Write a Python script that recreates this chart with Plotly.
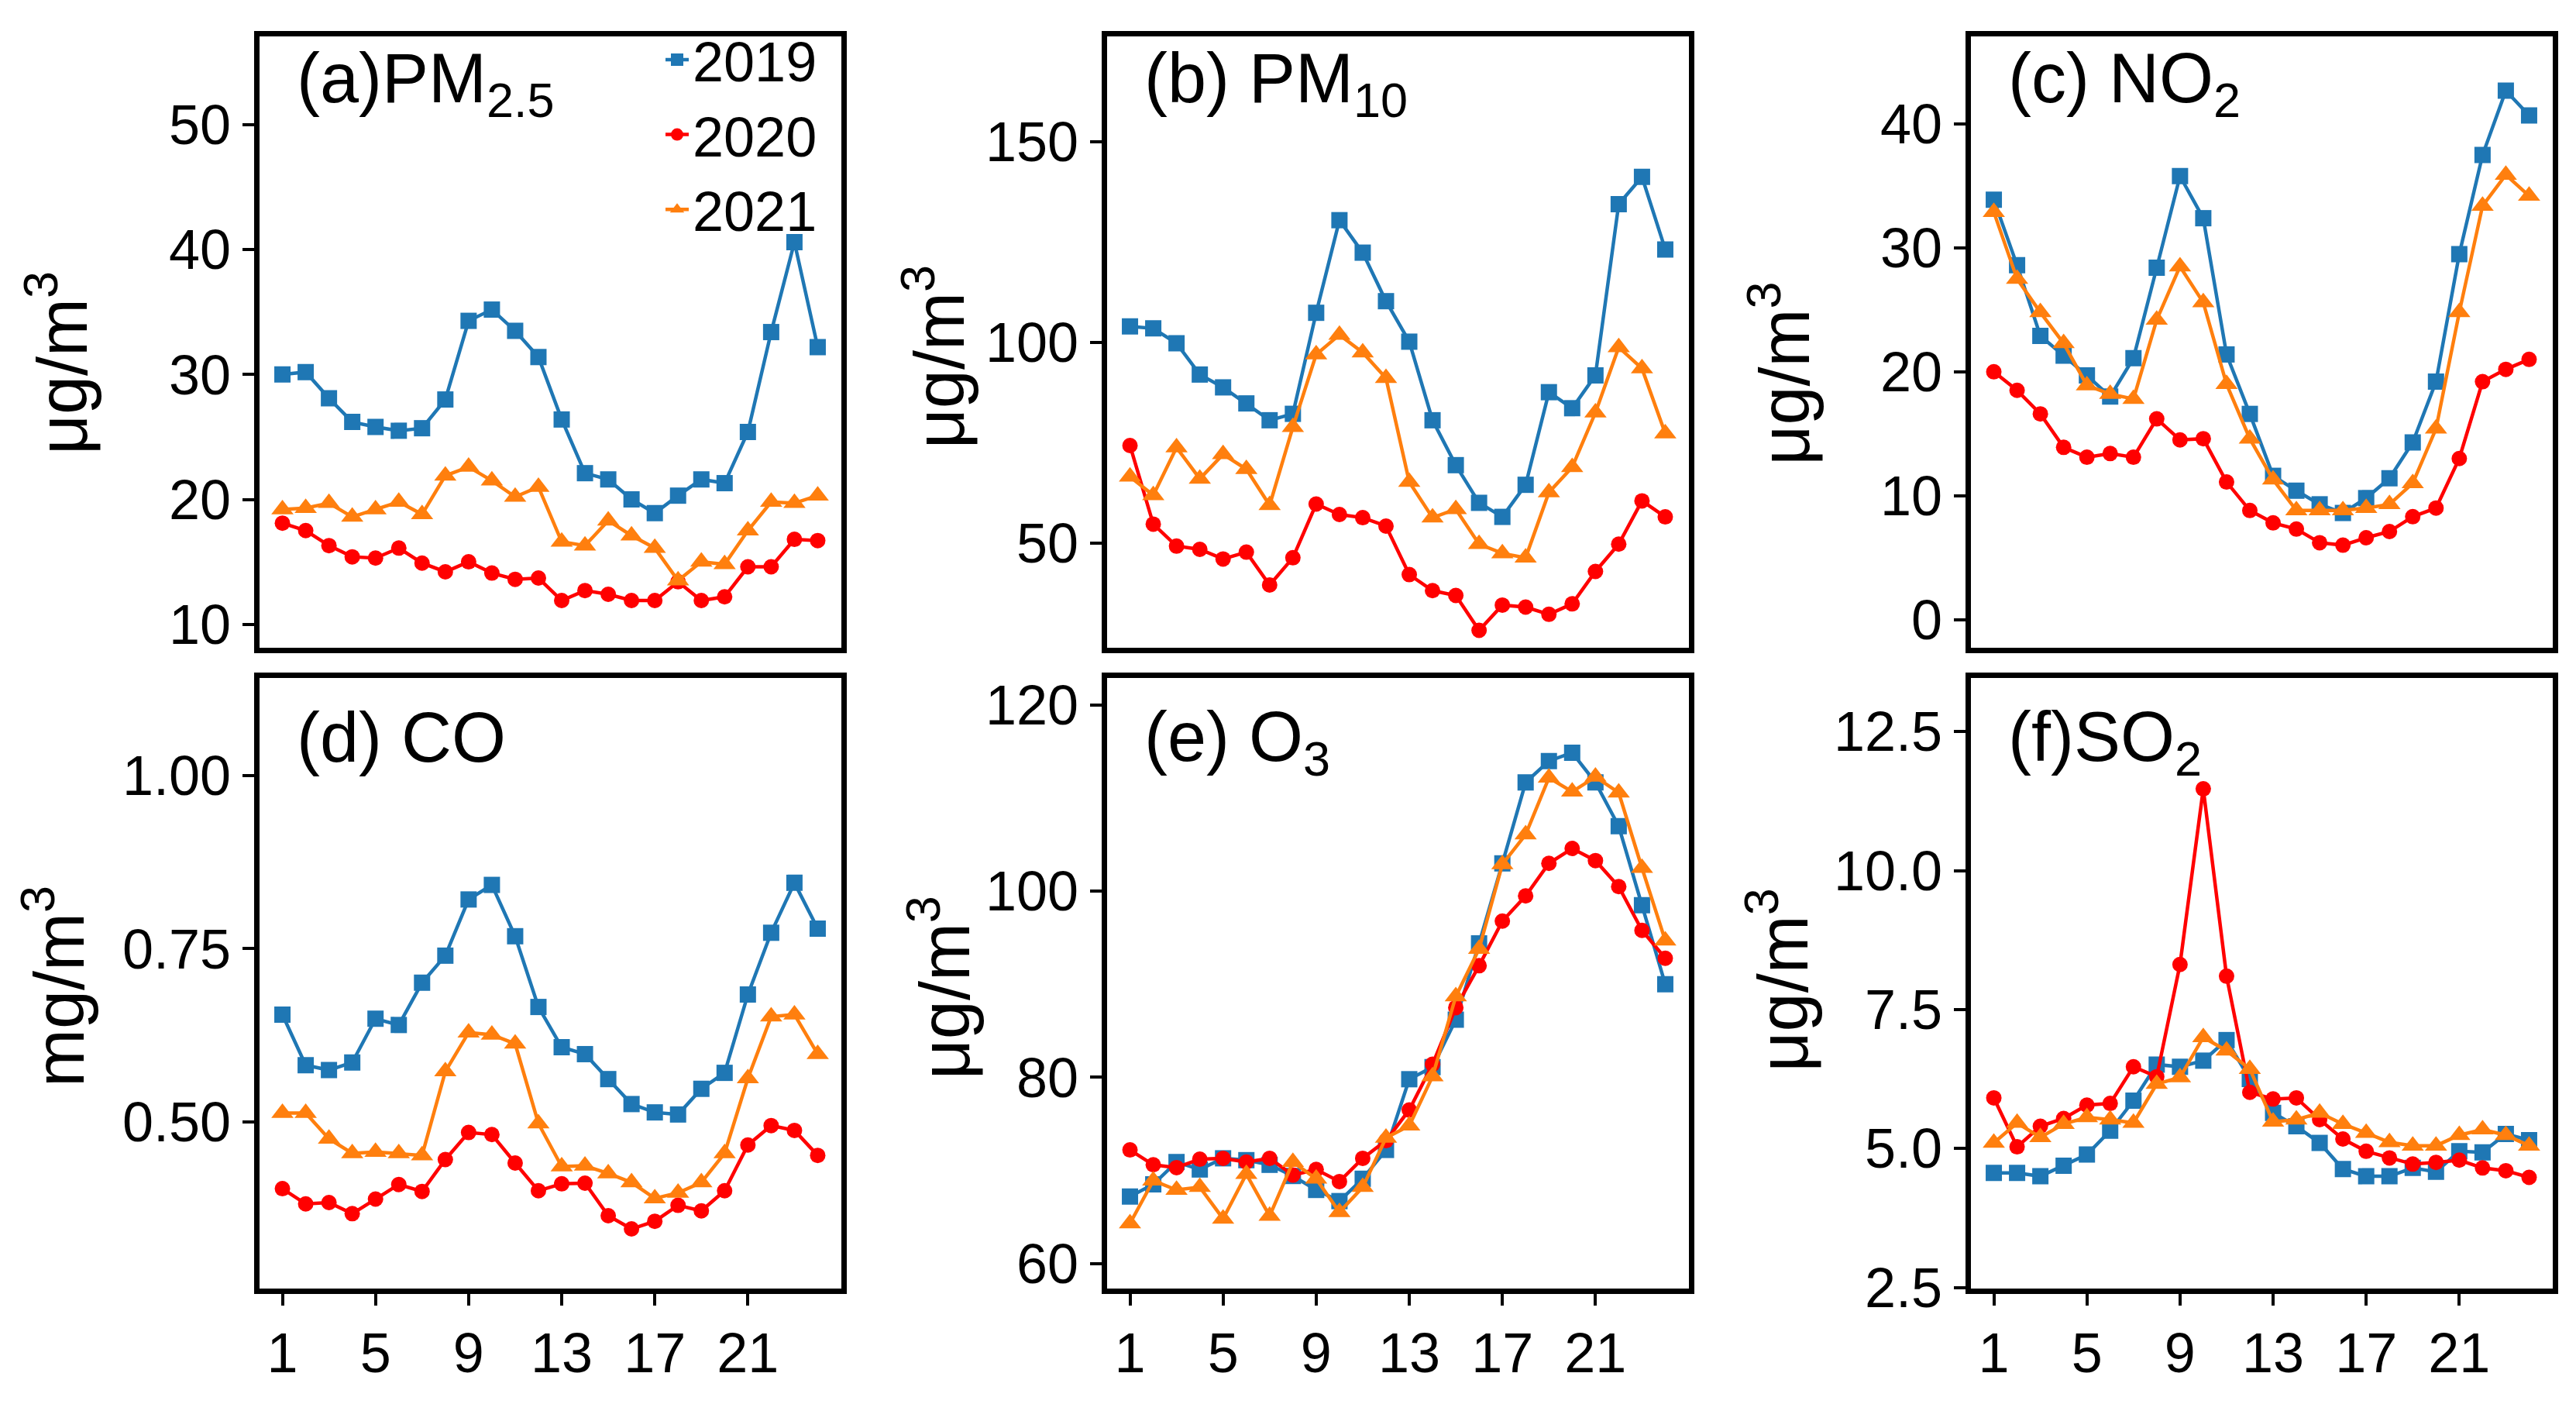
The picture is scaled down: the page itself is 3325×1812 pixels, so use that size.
"""Diurnal profiles of six pollutants, 2019-2021, as a 2x3 panel figure."""

import plotly.graph_objects as go

hours = list(range(1, 25))
years = ["2019", "2020", "2021"]

# (a) PM2.5
pm25_2019 = [30.0, 30.2, 28.1, 26.2, 25.8, 25.5, 25.7, 28.0, 34.3, 35.2, 33.5, 31.4,
             26.4, 22.1, 21.6, 20.0, 18.9, 20.3, 21.6, 21.3, 25.4, 33.4, 40.6, 32.2]
pm25_2020 = [18.1, 17.5, 16.3, 15.4, 15.3, 16.1, 14.9, 14.2, 15.0, 14.1, 13.6, 13.7,
             11.9, 12.7, 12.4, 11.9, 11.9, 13.4, 11.9, 12.2, 14.6, 14.6, 16.8, 16.7]
pm25_2021 = [19.2, 19.3, 19.7, 18.6, 19.2, 19.8, 18.8, 21.9, 22.6, 21.5, 20.2, 21.0,
             16.6, 16.3, 18.3, 17.1, 16.1, 13.5, 15.0, 14.8, 17.5, 19.8, 19.7, 20.3]

# (b) PM10
pm10_2019 = [104.0, 103.5, 99.8, 92.0, 88.8, 84.8, 80.6, 82.2, 107.4, 130.5, 122.4, 110.3,
             100.2, 80.6, 69.4, 60.0, 56.5, 64.5, 87.6, 83.6, 91.8, 134.5, 141.3, 123.2]
pm10_2020 = [74.3, 54.7, 49.2, 48.4, 46.0, 47.7, 39.5, 46.3, 59.7, 57.1, 56.3, 54.2,
             42.1, 38.1, 36.9, 28.2, 34.5, 34.0, 32.2, 34.8, 42.9, 49.7, 60.5, 56.5]
pm10_2021 = [66.5, 61.9, 73.8, 66.0, 72.1, 68.4, 59.4, 78.9, 97.0, 101.9, 97.5, 91.1,
             65.2, 56.3, 58.4, 49.7, 47.4, 46.3, 62.6, 68.9, 82.5, 98.8, 93.5, 77.3]

# (c) NO2
no2_2019 = [33.9, 28.6, 22.9, 21.3, 19.7, 18.0, 21.1, 28.4, 35.8, 32.4, 21.4, 16.6,
            11.6, 10.4, 9.3, 8.6, 9.8, 11.4, 14.3, 19.2, 29.5, 37.5, 42.7, 40.7]
no2_2020 = [20.0, 18.5, 16.6, 13.9, 13.1, 13.4, 13.1, 16.2, 14.5, 14.6, 11.1, 8.8,
            7.8, 7.3, 6.2, 6.0, 6.6, 7.1, 8.3, 9.0, 13.0, 19.2, 20.2, 21.0]
no2_2021 = [32.9, 27.5, 24.8, 22.3, 18.9, 18.2, 17.8, 24.2, 28.5, 25.6, 19.0, 14.6,
            11.3, 8.8, 8.8, 8.8, 9.0, 9.3, 11.0, 15.4, 24.8, 33.4, 35.9, 34.2]

# (d) CO
co_2019 = [0.655, 0.582, 0.575, 0.586, 0.649, 0.640, 0.701, 0.740, 0.821, 0.842, 0.768, 0.666,
           0.608, 0.598, 0.562, 0.526, 0.514, 0.511, 0.548, 0.571, 0.684, 0.773, 0.845, 0.779]
co_2020 = [0.404, 0.382, 0.384, 0.368, 0.389, 0.410, 0.400, 0.446, 0.485, 0.482, 0.441, 0.401,
           0.411, 0.412, 0.365, 0.346, 0.357, 0.380, 0.372, 0.401, 0.467, 0.495, 0.488, 0.452]
co_2021 = [0.513, 0.513, 0.476, 0.455, 0.457, 0.455, 0.452, 0.573, 0.629, 0.626, 0.613, 0.498,
           0.436, 0.437, 0.426, 0.413, 0.390, 0.398, 0.413, 0.455, 0.563, 0.652, 0.655, 0.598]

# (e) O3
o3_2019 = [67.2, 68.5, 70.9, 70.1, 71.3, 71.1, 70.6, 69.4, 67.9, 66.7, 69.1, 72.2,
           79.8, 81.1, 86.2, 94.4, 103.0, 111.7, 114.0, 114.9, 111.7, 107.0, 98.5, 90.0]
o3_2020 = [72.2, 70.6, 70.3, 71.2, 71.3, 70.9, 71.3, 69.5, 70.1, 68.8, 71.3, 73.2,
           76.5, 81.4, 87.5, 92.0, 96.8, 99.5, 103.0, 104.6, 103.3, 100.5, 95.8, 92.8]
o3_2021 = [64.3, 68.9, 67.9, 68.2, 64.8, 69.6, 65.1, 70.9, 69.1, 65.5, 68.2, 73.5,
           74.8, 80.1, 88.7, 93.8, 102.9, 106.1, 112.2, 110.7, 112.3, 110.6, 102.5, 94.7]

# (f) SO2
so2_2019 = [4.56, 4.56, 4.50, 4.69, 4.89, 5.32, 5.86, 6.51, 6.47, 6.58, 6.95, 6.25,
            5.64, 5.40, 5.10, 4.63, 4.50, 4.50, 4.65, 4.58, 4.95, 4.93, 5.26, 5.15]
so2_2020 = [5.91, 5.03, 5.40, 5.54, 5.78, 5.81, 6.47, 6.29, 8.31, 11.47, 8.10, 6.01,
            5.89, 5.91, 5.52, 5.17, 4.95, 4.83, 4.72, 4.75, 4.79, 4.65, 4.60, 4.48]
so2_2021 = [5.10, 5.46, 5.20, 5.44, 5.56, 5.52, 5.46, 6.16, 6.28, 7.00, 6.76, 6.43,
            5.48, 5.52, 5.64, 5.44, 5.28, 5.11, 5.05, 5.05, 5.24, 5.34, 5.24, 5.05]

x_ticks = [1, 5, 9, 13, 17, 21]

panels = [
    dict(label="(a)PM<sub>2.5</sub>", unit="μg/m<sup>3</sup>",
         series=[pm25_2019, pm25_2020, pm25_2021],
         yrange=[8.1, 57.1], yticks=[10, 20, 30, 40, 50], fmt="d"),
    dict(label="(b) PM<sub>10</sub>", unit="μg/m<sup>3</sup>",
         series=[pm10_2019, pm10_2020, pm10_2021],
         yrange=[23.8, 176.4], yticks=[50, 100, 150], fmt="d"),
    dict(label="(c) NO<sub>2</sub>", unit="μg/m<sup>3</sup>",
         series=[no2_2019, no2_2020, no2_2021],
         yrange=[-2.3, 47.1], yticks=[0, 10, 20, 30, 40], fmt="d"),
    dict(label="(d) CO", unit="mg/m<sup>3</sup>",
         series=[co_2019, co_2020, co_2021],
         yrange=[0.26, 1.14], yticks=[0.50, 0.75, 1.00], fmt=".2f"),
    dict(label="(e) O<sub>3</sub>", unit="μg/m<sup>3</sup>",
         series=[o3_2019, o3_2020, o3_2021],
         yrange=[57.3, 122.9], yticks=[60, 80, 100, 120], fmt="d"),
    dict(label="(f)SO<sub>2</sub>", unit="μg/m<sup>3</sup>",
         series=[so2_2019, so2_2020, so2_2021],
         yrange=[2.48, 13.46], yticks=[2.5, 5.0, 7.5, 10.0, 12.5], fmt=".1f"),
]

colors = ["#1f77b4", "#ff0000", "#ff7f0e"]
symbols = ["square", "circle", "triangle-up"]
sizes = [21, 20, 25]

# the page body keeps its default 8px margin, so the figure is 16px smaller
W, H = 3325 - 16, 1812 - 16
LW = 7  # frame thickness
# frame centre lines, figure pixels
cols = [(323, 1081), (1417, 2175), (2532, 3290)]
rows = [(32, 848), (881, 1695)]
title_pos = [(66, 468), (1198, 460), (2290, 482), (62, 1292), (1205, 1294), (2287, 1284)]
label_dy = [66, 66, 66, 82, 88, 88]

FONT = "Liberation Sans, Arial, sans-serif"

fig = go.Figure()
layout = dict(
    width=W, height=H, autosize=False,
    margin=dict(l=0, r=0, t=0, b=0),
    paper_bgcolor="white", plot_bgcolor="white",
    font=dict(family=FONT, color="black"),
    showlegend=True,
    legend=dict(x=846 / W, y=1 - 12 / H, xanchor="left", yanchor="top",
                font=dict(size=72, family=FONT, color="black"),
                bgcolor="rgba(0,0,0,0)", borderwidth=0, tracegroupgap=0),
    annotations=[],
)

for i, p in enumerate(panels):
    r, c = divmod(i, 3)
    n = i + 1
    xa = "x" if n == 1 else f"x{n}"
    ya = "y" if n == 1 else f"y{n}"
    x0, x1 = cols[c]
    y0, y1 = rows[r]
    half = LW / 2

    for k, yr in enumerate(years):
        fig.add_trace(go.Scatter(
            x=hours, y=p["series"][k], name=yr,
            mode="lines+markers",
            line=dict(color=colors[k], width=4.5),
            marker=dict(symbol=symbols[k], size=sizes[k], color=colors[k]),
            xaxis=xa, yaxis=ya,
            showlegend=(i == 0),
        ))

    layout[f"xaxis{'' if n == 1 else n}"] = dict(
        domain=[(x0 + half) / W, (x1 - half) / W],
        anchor=ya, range=[0, 25],
        tickmode="array", tickvals=x_ticks,
        showticklabels=(r == 1), ticks="outside" if r == 1 else "",
        ticklen=15, tickwidth=4, tickcolor="black",
        tickfont=dict(size=72, family=FONT, color="black"),
        showline=True, linecolor="black", linewidth=LW, mirror=True,
        showgrid=False, zeroline=False,
    )
    layout[f"yaxis{'' if n == 1 else n}"] = dict(
        domain=[1 - (y1 - half) / H, 1 - (y0 + half) / H],
        anchor=xa, range=p["yrange"],
        tickmode="array", tickvals=p["yticks"],
        tickformat=p["fmt"],
        ticks="outside", ticklen=15, tickwidth=4, tickcolor="black",
        tickfont=dict(size=72, family=FONT, color="black"),
        showline=True, linecolor="black", linewidth=LW, mirror=True,
        showgrid=False, zeroline=False,
    )

    # panel label
    layout["annotations"].append(dict(
        text=p["label"], xref="paper", yref="paper",
        x=(x0 + 50) / W, y=1 - (y0 + label_dy[i]) / H,
        xanchor="left", yanchor="middle", showarrow=False,
        font=dict(size=90, family=FONT, color="black"),
    ))
    # y-axis title
    tx, ty = title_pos[i]
    layout["annotations"].append(dict(
        text=p["unit"], xref="paper", yref="paper",
        x=tx / W, y=1 - ty / H, textangle=-90,
        xanchor="center", yanchor="middle", showarrow=False,
        font=dict(size=90, family=FONT, color="black"),
    ))

fig.update_layout(**layout)
fig.write_html("out.html")
